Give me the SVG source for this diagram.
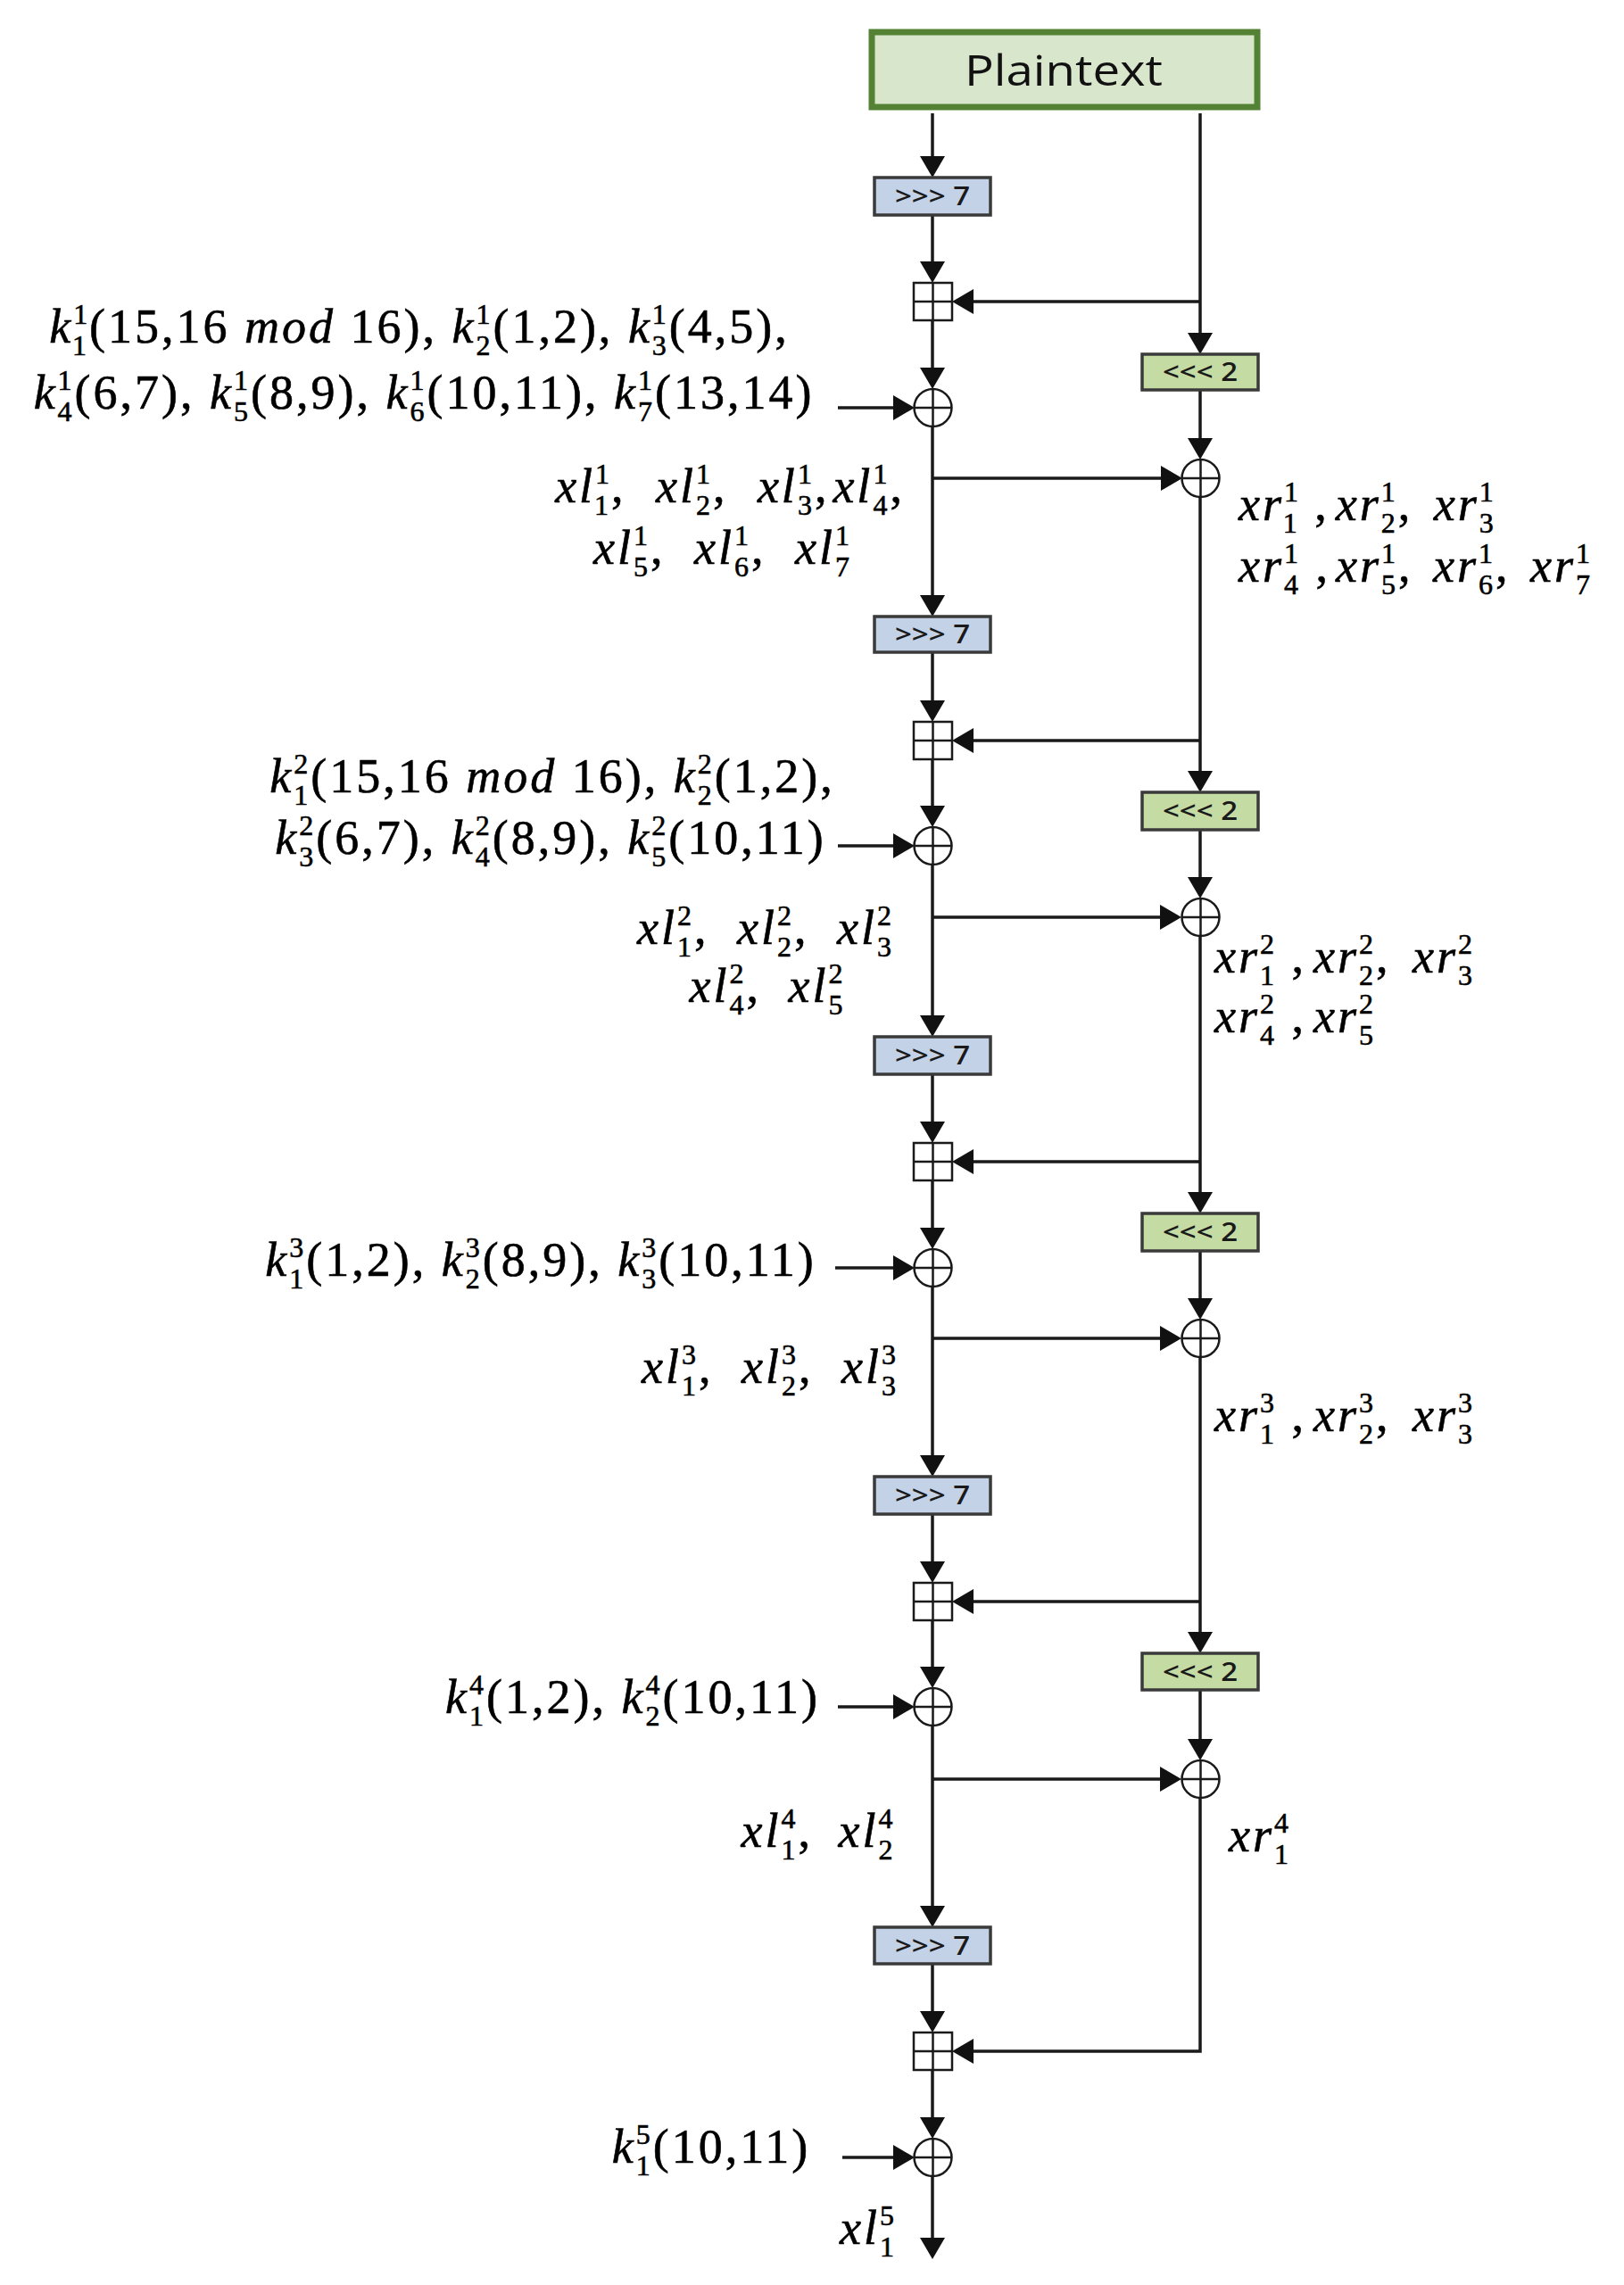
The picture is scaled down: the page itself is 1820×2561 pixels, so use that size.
<svg xmlns="http://www.w3.org/2000/svg" width="1820" height="2561" viewBox="0 0 1820 2561">
<style>
.ln{stroke:#1a1a1a;stroke-width:3.5;fill:none}
.arr{marker-end:url(#ah)}
.s7{fill:#c3d2e7;stroke:#3a3a3a;stroke-width:3.5}
.r2{fill:#c5dba4;stroke:#3a3a3a;stroke-width:3.5}
.op{fill:#fff;stroke:#1a1a1a;stroke-width:2.5}
.bt{font-family:"Open Sans","Noto Sans",sans-serif;font-size:28px;font-weight:600;fill:#1a1a1a;text-anchor:middle}
.m{font-family:"Liberation Serif","DejaVu Serif",serif;font-size:54px;letter-spacing:3px;fill:#000;stroke:#000;stroke-width:0.6}
.i{font-style:italic}
.s{font-size:32px;font-style:normal}
</style>
<defs>
<marker id="ah" markerUnits="userSpaceOnUse" markerWidth="26" markerHeight="30" refX="16" refY="14" orient="auto"><path d="M0,0 L24,14 L0,28 Z" fill="#111"/></marker>
</defs>
<rect width="1820" height="2561" fill="#fff"/>

<g id="connectors">
<path class="ln arr" d="M1045,127 V191"/>
<path class="ln arr" d="M1045,241 V309"/>
<path class="ln arr" d="M1045,359 V428"/>
<path class="ln arr" d="M1045,478 V683"/>
<path class="ln arr" d="M1045,536 H1317"/>
<path class="ln arr" d="M1045,731 V801"/>
<path class="ln arr" d="M1045,851 V919"/>
<path class="ln arr" d="M1045,969 V1154"/>
<path class="ln arr" d="M1045,1028 H1316"/>
<path class="ln arr" d="M1045,1204 V1273"/>
<path class="ln arr" d="M1045,1323 V1392"/>
<path class="ln arr" d="M1045,1442 V1647"/>
<path class="ln arr" d="M1045,1500 H1316"/>
<path class="ln arr" d="M1045,1697 V1766"/>
<path class="ln arr" d="M1045,1816 V1884"/>
<path class="ln arr" d="M1045,1934 V2152"/>
<path class="ln arr" d="M1045,1994 H1316"/>
<path class="ln arr" d="M1045,2201 V2270"/>
<path class="ln arr" d="M1045,2320 V2389"/>
<path class="ln arr" d="M1045,2439 V2524"/>

<path class="ln arr" d="M1345,127 V389"/>
<path class="ln arr" d="M1345,338 H1075"/>
<path class="ln arr" d="M1345,437 V507"/>
<path class="ln arr" d="M1345,557 V880"/>
<path class="ln arr" d="M1345,830 H1075"/>
<path class="ln arr" d="M1345,930 V999"/>
<path class="ln arr" d="M1345,1049 V1352"/>
<path class="ln arr" d="M1345,1302 H1075"/>
<path class="ln arr" d="M1345,1402 V1471"/>
<path class="ln arr" d="M1345,1521 V1845"/>
<path class="ln arr" d="M1345,1795 H1075"/>
<path class="ln arr" d="M1345,1894 V1965"/>
<path class="ln arr" d="M1345,2015 V2299 H1075"/>

<path class="ln arr" d="M939,457 H1017"/>
<path class="ln arr" d="M939,948 H1017"/>
<path class="ln arr" d="M936,1421 H1017"/>
<path class="ln arr" d="M939,1913 H1017"/>
<path class="ln arr" d="M944,2418 H1017"/>
</g>

<g id="plaintext">
<rect x="977" y="36" width="432" height="84" fill="#d8e6cc" stroke="#548235" stroke-width="7"/>
<text x="1192" y="96" font-family="Open Sans, Noto Sans, sans-serif" font-size="48" fill="#111" text-anchor="middle" textLength="222" lengthAdjust="spacingAndGlyphs">Plaintext</text>
</g>

<g id="ror1"><rect class="s7" x="980" y="199" width="130" height="42"/><text class="bt" x="1045" y="230" textLength="84" lengthAdjust="spacingAndGlyphs">&gt;&gt;&gt; 7</text></g>
<g id="ror2"><rect class="s7" x="980" y="691" width="130" height="40"/><text class="bt" x="1045" y="721" textLength="84" lengthAdjust="spacingAndGlyphs">&gt;&gt;&gt; 7</text></g>
<g id="ror3"><rect class="s7" x="980" y="1162" width="130" height="42"/><text class="bt" x="1045" y="1193" textLength="84" lengthAdjust="spacingAndGlyphs">&gt;&gt;&gt; 7</text></g>
<g id="ror4"><rect class="s7" x="980" y="1655" width="130" height="42"/><text class="bt" x="1045" y="1686" textLength="84" lengthAdjust="spacingAndGlyphs">&gt;&gt;&gt; 7</text></g>
<g id="ror5"><rect class="s7" x="980" y="2160" width="130" height="41"/><text class="bt" x="1045" y="2191" textLength="84" lengthAdjust="spacingAndGlyphs">&gt;&gt;&gt; 7</text></g>

<g id="rol1"><rect class="r2" x="1280" y="397" width="130" height="40"/><text class="bt" x="1345" y="427" textLength="84" lengthAdjust="spacingAndGlyphs">&lt;&lt;&lt; 2</text></g>
<g id="rol2"><rect class="r2" x="1280" y="888" width="130" height="42"/><text class="bt" x="1345" y="919" textLength="84" lengthAdjust="spacingAndGlyphs">&lt;&lt;&lt; 2</text></g>
<g id="rol3"><rect class="r2" x="1280" y="1360" width="130" height="42"/><text class="bt" x="1345" y="1391" textLength="84" lengthAdjust="spacingAndGlyphs">&lt;&lt;&lt; 2</text></g>
<g id="rol4"><rect class="r2" x="1280" y="1853" width="130" height="41"/><text class="bt" x="1345" y="1884" textLength="84" lengthAdjust="spacingAndGlyphs">&lt;&lt;&lt; 2</text></g>

<g id="add1"><rect class="op" x="1024" y="317" width="43" height="42"/><path class="op" d="M1045.5,317 V359 M1024,338 H1067"/></g>
<g id="add2"><rect class="op" x="1024" y="809" width="43" height="42"/><path class="op" d="M1045.5,809 V851 M1024,830 H1067"/></g>
<g id="add3"><rect class="op" x="1024" y="1281" width="43" height="42"/><path class="op" d="M1045.5,1281 V1323 M1024,1302 H1067"/></g>
<g id="add4"><rect class="op" x="1024" y="1774" width="43" height="42"/><path class="op" d="M1045.5,1774 V1816 M1024,1795 H1067"/></g>
<g id="add5"><rect class="op" x="1024" y="2278" width="43" height="42"/><path class="op" d="M1045.5,2278 V2320 M1024,2299 H1067"/></g>

<g id="xorL1"><circle class="op" cx="1045.5" cy="457" r="21"/><path class="op" d="M1045.5,436 V478 M1024.5,457 H1066.5"/></g>
<g id="xorL2"><circle class="op" cx="1045.5" cy="948" r="21"/><path class="op" d="M1045.5,927 V969 M1024.5,948 H1066.5"/></g>
<g id="xorL3"><circle class="op" cx="1045.5" cy="1421" r="21"/><path class="op" d="M1045.5,1400 V1442 M1024.5,1421 H1066.5"/></g>
<g id="xorL4"><circle class="op" cx="1045.5" cy="1913" r="21"/><path class="op" d="M1045.5,1892 V1934 M1024.5,1913 H1066.5"/></g>
<g id="xorL5"><circle class="op" cx="1045.5" cy="2418" r="21"/><path class="op" d="M1045.5,2397 V2439 M1024.5,2418 H1066.5"/></g>

<g id="xorR1"><circle class="op" cx="1345.5" cy="536" r="21"/><path class="op" d="M1345.5,515 V557 M1324.5,536 H1366.5"/></g>
<g id="xorR2"><circle class="op" cx="1345.5" cy="1028" r="21"/><path class="op" d="M1345.5,1007 V1049 M1324.5,1028 H1366.5"/></g>
<g id="xorR3"><circle class="op" cx="1345.5" cy="1500" r="21"/><path class="op" d="M1345.5,1479 V1521 M1324.5,1500 H1366.5"/></g>
<g id="xorR4"><circle class="op" cx="1345.5" cy="1994" r="21"/><path class="op" d="M1345.5,1973 V2015 M1324.5,1994 H1366.5"/></g>

<g id="labels">
<text class="m" x="470" y="384" text-anchor="middle"><tspan class="i">k</tspan><tspan class="s" dy="-21">1</tspan><tspan class="s" dx="-19" dy="35">1</tspan><tspan dy="-14">(15,16 </tspan><tspan class="i">mod</tspan><tspan> 16), </tspan><tspan class="i">k</tspan><tspan class="s" dy="-21">1</tspan><tspan class="s" dx="-19" dy="35">2</tspan><tspan dy="-14">(1,2), </tspan><tspan class="i">k</tspan><tspan class="s" dy="-21">1</tspan><tspan class="s" dx="-19" dy="35">3</tspan><tspan dy="-14">(4,5),</tspan></text>
<text class="m" x="475" y="458" text-anchor="middle"><tspan class="i">k</tspan><tspan class="s" dy="-21">1</tspan><tspan class="s" dx="-19" dy="35">4</tspan><tspan dy="-14">(6,7), </tspan><tspan class="i">k</tspan><tspan class="s" dy="-21">1</tspan><tspan class="s" dx="-19" dy="35">5</tspan><tspan dy="-14">(8,9), </tspan><tspan class="i">k</tspan><tspan class="s" dy="-21">1</tspan><tspan class="s" dx="-19" dy="35">6</tspan><tspan dy="-14">(10,11), </tspan><tspan class="i">k</tspan><tspan class="s" dy="-21">1</tspan><tspan class="s" dx="-19" dy="35">7</tspan><tspan dy="-14">(13,14)</tspan></text>

<text class="m" x="818" y="563" text-anchor="middle"><tspan class="i">xl</tspan><tspan class="s" dy="-21">1</tspan><tspan class="s" dx="-19" dy="35">1</tspan><tspan dy="-14">, </tspan><tspan class="i" dx="17">xl</tspan><tspan class="s" dy="-21">1</tspan><tspan class="s" dx="-19" dy="35">2</tspan><tspan dy="-14">, </tspan><tspan class="i" dx="17">xl</tspan><tspan class="s" dy="-21">1</tspan><tspan class="s" dx="-19" dy="35">3</tspan><tspan dy="-14">,</tspan><tspan class="i" dx="4">xl</tspan><tspan class="s" dy="-21">1</tspan><tspan class="s" dx="-19" dy="35">4</tspan><tspan dy="-14">,</tspan></text>
<text class="m" x="810" y="632" text-anchor="middle"><tspan class="i">xl</tspan><tspan class="s" dy="-21">1</tspan><tspan class="s" dx="-19" dy="35">5</tspan><tspan dy="-14">, </tspan><tspan class="i" dx="16">xl</tspan><tspan class="s" dy="-21">1</tspan><tspan class="s" dx="-19" dy="35">6</tspan><tspan dy="-14">, </tspan><tspan class="i" dx="16">xl</tspan><tspan class="s" dy="-21">1</tspan><tspan class="s" dx="-19" dy="35">7</tspan></text>

<text class="m" x="1388" y="583"><tspan class="i">xr</tspan><tspan class="s" dy="-21">1</tspan><tspan class="s" dx="-19" dy="35">1</tspan><tspan dy="-14"> ,</tspan><tspan class="i" dx="7">xr</tspan><tspan class="s" dy="-21">1</tspan><tspan class="s" dx="-19" dy="35">2</tspan><tspan dy="-14">, </tspan><tspan class="i" dx="7">xr</tspan><tspan class="s" dy="-21">1</tspan><tspan class="s" dx="-19" dy="35">3</tspan></text>
<text class="m" x="1388" y="652"><tspan class="i">xr</tspan><tspan class="s" dy="-21">1</tspan><tspan class="s" dx="-19" dy="35">4</tspan><tspan dy="-14"> ,</tspan><tspan class="i" dx="6">xr</tspan><tspan class="s" dy="-21">1</tspan><tspan class="s" dx="-19" dy="35">5</tspan><tspan dy="-14">, </tspan><tspan class="i" dx="6">xr</tspan><tspan class="s" dy="-21">1</tspan><tspan class="s" dx="-19" dy="35">6</tspan><tspan dy="-14">, </tspan><tspan class="i" dx="6">xr</tspan><tspan class="s" dy="-21">1</tspan><tspan class="s" dx="-19" dy="35">7</tspan></text>

<text class="m" x="619" y="888" text-anchor="middle"><tspan class="i">k</tspan><tspan class="s" dy="-21">2</tspan><tspan class="s" dx="-19" dy="35">1</tspan><tspan dy="-14">(15,16 </tspan><tspan class="i">mod</tspan><tspan> 16), </tspan><tspan class="i">k</tspan><tspan class="s" dy="-21">2</tspan><tspan class="s" dx="-19" dy="35">2</tspan><tspan dy="-14">(1,2),</tspan></text>
<text class="m" x="617" y="957" text-anchor="middle"><tspan class="i">k</tspan><tspan class="s" dy="-21">2</tspan><tspan class="s" dx="-19" dy="35">3</tspan><tspan dy="-14">(6,7), </tspan><tspan class="i">k</tspan><tspan class="s" dy="-21">2</tspan><tspan class="s" dx="-19" dy="35">4</tspan><tspan dy="-14">(8,9), </tspan><tspan class="i">k</tspan><tspan class="s" dy="-21">2</tspan><tspan class="s" dx="-19" dy="35">5</tspan><tspan dy="-14">(10,11)</tspan></text>

<text class="m" x="858" y="1058" text-anchor="middle"><tspan class="i">xl</tspan><tspan class="s" dy="-21">2</tspan><tspan class="s" dx="-19" dy="35">1</tspan><tspan dy="-14">, </tspan><tspan class="i" dx="15">xl</tspan><tspan class="s" dy="-21">2</tspan><tspan class="s" dx="-19" dy="35">2</tspan><tspan dy="-14">, </tspan><tspan class="i" dx="15">xl</tspan><tspan class="s" dy="-21">2</tspan><tspan class="s" dx="-19" dy="35">3</tspan></text>
<text class="m" x="860" y="1123" text-anchor="middle"><tspan class="i">xl</tspan><tspan class="s" dy="-21">2</tspan><tspan class="s" dx="-19" dy="35">4</tspan><tspan dy="-14">, </tspan><tspan class="i" dx="14">xl</tspan><tspan class="s" dy="-21">2</tspan><tspan class="s" dx="-19" dy="35">5</tspan></text>

<text class="m" x="1361" y="1090"><tspan class="i">xr</tspan><tspan class="s" dy="-21">2</tspan><tspan class="s" dx="-19" dy="35">1</tspan><tspan dy="-14"> ,</tspan><tspan class="i" dx="8">xr</tspan><tspan class="s" dy="-21">2</tspan><tspan class="s" dx="-19" dy="35">2</tspan><tspan dy="-14">, </tspan><tspan class="i" dx="8">xr</tspan><tspan class="s" dy="-21">2</tspan><tspan class="s" dx="-19" dy="35">3</tspan></text>
<text class="m" x="1361" y="1157"><tspan class="i">xr</tspan><tspan class="s" dy="-21">2</tspan><tspan class="s" dx="-19" dy="35">4</tspan><tspan dy="-14"> ,</tspan><tspan class="i" dx="8">xr</tspan><tspan class="s" dy="-21">2</tspan><tspan class="s" dx="-19" dy="35">5</tspan></text>

<text class="m" x="606" y="1430" text-anchor="middle"><tspan class="i">k</tspan><tspan class="s" dy="-21">3</tspan><tspan class="s" dx="-19" dy="35">1</tspan><tspan dy="-14">(1,2), </tspan><tspan class="i">k</tspan><tspan class="s" dy="-21">3</tspan><tspan class="s" dx="-19" dy="35">2</tspan><tspan dy="-14">(8,9), </tspan><tspan class="i">k</tspan><tspan class="s" dy="-21">3</tspan><tspan class="s" dx="-19" dy="35">3</tspan><tspan dy="-14">(10,11)</tspan></text>

<text class="m" x="863" y="1550" text-anchor="middle"><tspan class="i">xl</tspan><tspan class="s" dy="-21">3</tspan><tspan class="s" dx="-19" dy="35">1</tspan><tspan dy="-14">, </tspan><tspan class="i" dx="15">xl</tspan><tspan class="s" dy="-21">3</tspan><tspan class="s" dx="-19" dy="35">2</tspan><tspan dy="-14">, </tspan><tspan class="i" dx="15">xl</tspan><tspan class="s" dy="-21">3</tspan><tspan class="s" dx="-19" dy="35">3</tspan></text>

<text class="m" x="1361" y="1604"><tspan class="i">xr</tspan><tspan class="s" dy="-21">3</tspan><tspan class="s" dx="-19" dy="35">1</tspan><tspan dy="-14"> ,</tspan><tspan class="i" dx="8">xr</tspan><tspan class="s" dy="-21">3</tspan><tspan class="s" dx="-19" dy="35">2</tspan><tspan dy="-14">, </tspan><tspan class="i" dx="8">xr</tspan><tspan class="s" dy="-21">3</tspan><tspan class="s" dx="-19" dy="35">3</tspan></text>

<text class="m" x="709" y="1920" text-anchor="middle"><tspan class="i">k</tspan><tspan class="s" dy="-21">4</tspan><tspan class="s" dx="-19" dy="35">1</tspan><tspan dy="-14">(1,2), </tspan><tspan class="i">k</tspan><tspan class="s" dy="-21">4</tspan><tspan class="s" dx="-19" dy="35">2</tspan><tspan dy="-14">(10,11)</tspan></text>

<text class="m" x="917" y="2070" text-anchor="middle"><tspan class="i">xl</tspan><tspan class="s" dy="-21">4</tspan><tspan class="s" dx="-19" dy="35">1</tspan><tspan dy="-14">, </tspan><tspan class="i" dx="12">xl</tspan><tspan class="s" dy="-21">4</tspan><tspan class="s" dx="-19" dy="35">2</tspan></text>

<text class="m" x="1377" y="2075"><tspan class="i">xr</tspan><tspan class="s" dy="-21">4</tspan><tspan class="s" dx="-19" dy="35">1</tspan></text>

<text class="m" x="797" y="2424" text-anchor="middle"><tspan class="i">k</tspan><tspan class="s" dy="-21">5</tspan><tspan class="s" dx="-19" dy="35">1</tspan><tspan dy="-14">(10,11)</tspan></text>

<text class="m" x="973" y="2515" text-anchor="middle"><tspan class="i">xl</tspan><tspan class="s" dy="-21">5</tspan><tspan class="s" dx="-19" dy="35">1</tspan></text>
</g>
</svg>
